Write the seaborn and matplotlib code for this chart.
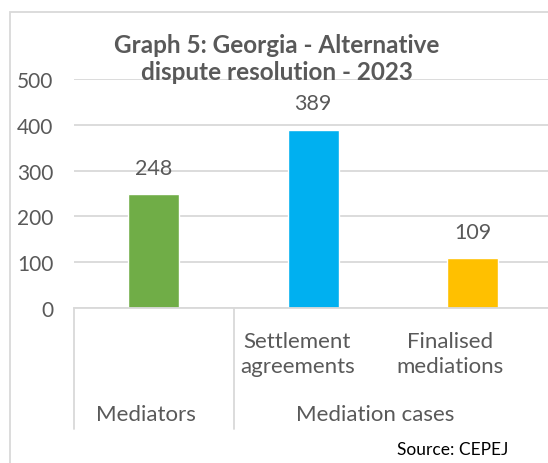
import matplotlib
matplotlib.use("Agg")
import matplotlib.pyplot as plt
import matplotlib.patches as mpatches
import matplotlib.transforms as mtransforms
import seaborn as sns
import pandas as pd

# Data
categories = ["Mediators", "Settlement agreements", "Finalised mediations"]
values = [248, 389, 109]
colors = ["#70AD47", "#00B0F0", "#FFC000"]
sub_labels = ["", "Settlement\nagreements", "Finalised\nmediations"]
group_labels = ["Mediators", "Mediation cases"]
yticks = [0, 100, 200, 300, 400, 500]

df = pd.DataFrame({"category": categories, "value": values})

sns.set_style("white")
plt.rcParams["font.family"] = ["Lato", "DejaVu Sans"]

grey = "#595959"
line_grey = "#D9D9D9"

fig = plt.figure(figsize=(5.48, 4.64), dpi=100)
ax = fig.add_axes([74 / 548, 1 - 309 / 464, 478.5 / 548, 229 / 464])

sns.barplot(data=df, x="category", y="value", hue="category",
            palette=colors, width=0.32, legend=False, ax=ax, saturation=1)

ax.set_ylim(0, 500)
ax.set_xlim(-0.5, 2.5)
ax.set_yticks(yticks)
ax.yaxis.grid(True, color=line_grey, lw=1.3)
ax.set_axisbelow(True)
for s in ["top", "right", "left"]:
    ax.spines[s].set_visible(False)
ax.spines["bottom"].set_color(line_grey)
ax.spines["bottom"].set_linewidth(1.3)
ax.tick_params(axis="y", length=0, pad=15, labelsize=15, labelcolor=grey)
ax.set_xticks([])
ax.set_xlabel("")
ax.set_ylabel("")

# data labels
for i, v in enumerate(values):
    ax.annotate(str(v), (i, v), xytext=(0, 19), textcoords="offset points",
                ha="center", va="center", fontsize=15.5, color=grey)

# multi-level category axis
trans = mtransforms.blended_transform_factory(ax.transData, ax.transAxes)
for xs in [-0.5, 0.5, 2.5]:
    ax.plot([xs, xs], [0, -0.528], color=line_grey, lw=1.3,
            transform=trans, clip_on=False)
sub_x = [0, 0.9, 1.86]
for x, lab in zip(sub_x, sub_labels):
    if lab:
        ax.text(x, -0.198, lab, transform=trans, ha="center", va="center",
                fontsize=16, color=grey, linespacing=1.3)
ax.text(-0.05, -0.465, group_labels[0], transform=trans, ha="center",
        va="center", fontsize=16, color=grey)
ax.text(1.39, -0.465, group_labels[1], transform=trans, ha="center",
        va="center", fontsize=16, color=grey)

# title
fig.text(277 / 548, 1 - 59 / 464,
         "Graph 5: Georgia - Alternative\ndispute resolution - 2023",
         ha="center", va="center", fontsize=17.5, fontweight="bold",
         color=grey, linespacing=1.25)

# source
fig.text(508 / 548, 1 - 450 / 464, "Source: CEPEJ", ha="right",
         va="center", fontsize=12.5, color="black")

# chart frame
fig.patches.append(mpatches.Rectangle((10 / 548, -0.1), 1.2, 1 - 13 / 464 + 0.1,
                                      transform=fig.transFigure, fill=False,
                                      edgecolor=line_grey, lw=1.3))

fig.savefig("out.png", dpi=100)
